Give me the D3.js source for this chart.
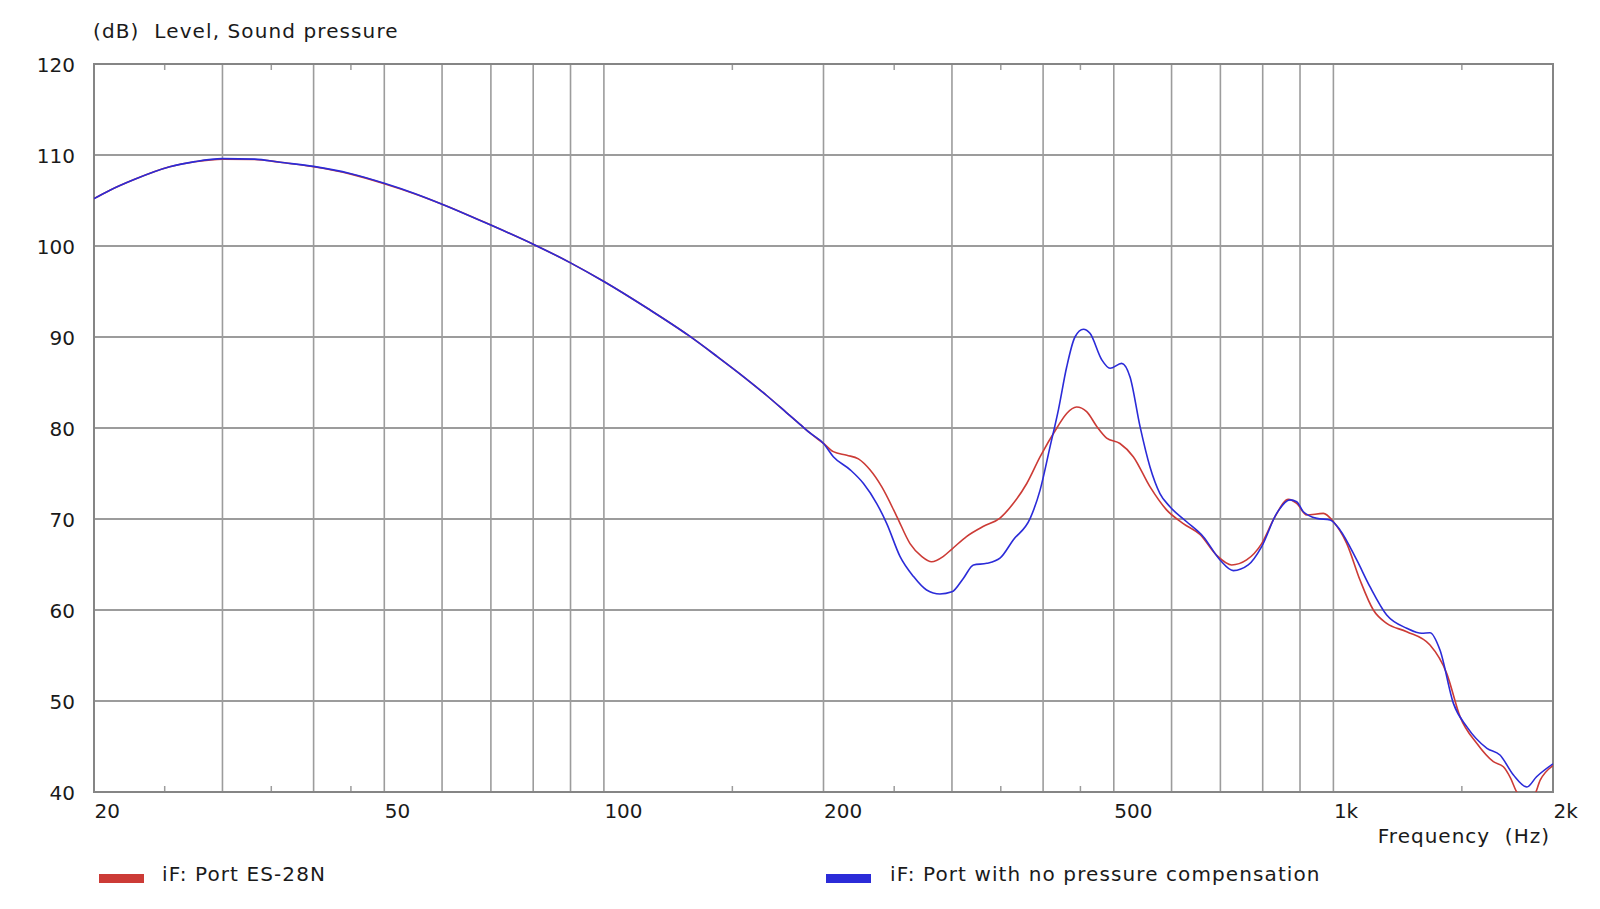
<!DOCTYPE html>
<html>
<head>
<meta charset="utf-8">
<script src="https://cdn.jsdelivr.net/npm/d3@7"></script>
<style>
  html, body { margin: 0; padding: 0; background: #ffffff; }
  svg { display: block; }
  text { font-family: "DejaVu Sans", Verdana, sans-serif; fill: #1a1a1a; }
</style>
</head>
<body>
<svg id="chart" width="1600" height="909"></svg>
<script>
// ---- data ----
const gridFreqs = [20, 30, 40, 50, 60, 70, 80, 90, 100, 200, 300, 400, 500, 600, 700, 800, 900, 1000];
const minorFreqs = [25, 35, 45, 150, 250, 350, 450, 1500];
const xLabelFreqs = [20, 50, 100, 200, 500, 1000, 2000];
const xLabelText = ["20", "50", "100", "200", "500", "1k", "2k"];
const yTicks = [40, 50, 60, 70, 80, 90, 100, 110, 120];

const seriesNames = ["iF: Port ES-28N", "iF: Port with no pressure compensation"];

const redFreq = [20, 21, 22.7, 25.4, 27.5, 30, 33.2, 36, 40, 45, 50, 55, 60, 70, 80, 90, 100, 115, 130.5, 143, 155.6, 167, 177.9, 185.7, 192, 200,
  206.3, 215.3, 223.3, 231.6, 240.3, 252, 262.8, 272.6, 281.4, 292, 300, 314.4, 331.4, 349.1, 364, 379.9, 396.3, 417.7, 430.9, 444.6, 458.9, 473.6, 488.8, 509.8, 531.7, 560.4, 590.6, 622.6, 656.3, 691.9, 725.4, 760.3, 797.4, 831.7, 867.4, 890.6, 919.1, 968.7, 1000, 1042.8, 1087.6, 1134.4, 1183.2, 1260.4, 1356.5, 1429.9, 1491.4, 1572, 1656.9, 1710, 1750, 1783.6, 1830, 1880, 1920.9, 2000];
const redLevel = [105.2, 106.1, 107.3, 108.7, 109.25, 109.55, 109.5, 109.2, 108.7, 107.9, 106.85, 105.75, 104.6, 102.3, 100.2, 98.15, 96.1, 93.1, 90.2, 87.85, 85.6, 83.6, 81.7, 80.4, 79.4, 78.3,
  77.4, 77.0, 76.6, 75.4, 73.55, 70.3, 67.3, 65.9, 65.3, 65.9, 66.7, 68.1, 69.2, 70.1, 71.7, 73.9, 76.85, 80.0, 81.6, 82.3, 81.8, 80.2, 78.9, 78.3, 76.85, 73.55, 71.0, 69.5, 68.3, 66.0, 64.95, 65.5, 67.3, 70.26, 72.16, 71.72, 70.44, 70.62, 69.7, 67.33, 63.3, 60.0, 58.53, 57.62, 56.15, 53.04, 48.28, 45.35, 43.33, 42.78, 41.5, 40.0, 39.3, 39.5, 41.3, 42.9];

const blueFreq = [20, 21, 22.7, 25.4, 27.5, 30, 33.2, 36, 40, 45, 50, 55, 60, 70, 80, 90, 100, 115, 130.5, 143, 155.6, 167, 177.9, 185.7, 192, 200,
  206.3, 217.6, 226.9, 236.6, 244.2, 254.6, 265.6, 276.9, 288.8, 300, 311.1, 321.1, 334.9, 349.1, 364, 384, 396.3, 408.9, 419.8, 430.9, 442.3, 454.2, 463.8, 481.3, 494.1, 512.6, 526.3, 543.2, 560.4, 578.4, 596.9, 629.2, 663.2, 699.2, 729.1, 764.3, 797.4, 836.1, 872, 890.6, 909.5, 949, 989.8, 1021, 1076.4, 1122.3, 1183.2, 1260.4, 1321.5, 1356.5, 1399.9, 1460.4, 1523.3, 1623.7, 1691.8, 1765.3, 1842, 1898.9, 2000];
const blueLevel = [105.2, 106.1, 107.3, 108.7, 109.27, 109.6, 109.55, 109.2, 108.75, 107.95, 106.9, 105.78, 104.6, 102.3, 100.2, 98.15, 96.1, 93.1, 90.2, 87.85, 85.6, 83.6, 81.7, 80.4, 79.4, 78.3,
  76.85, 75.4, 73.9, 71.7, 69.5, 65.9, 63.7, 62.2, 61.76, 62.0, 63.5, 64.95, 65.13, 65.7, 67.7, 70.07, 73.2, 77.95, 82.0, 86.7, 90.0, 90.85, 90.4, 87.5, 86.56, 87.1, 85.6, 80.15, 75.75, 72.8, 71.35, 69.7, 68.06, 65.5, 64.33, 64.95, 66.97, 70.62, 72.1, 71.9, 70.8, 70.07, 69.9, 68.8, 65.5, 62.56, 59.45, 58.0, 57.44, 57.5, 55.6, 49.74, 47.18, 44.8, 44.07, 41.87, 40.55, 41.68, 43.1];

// ---- layout ----
const pL = 94, pR = 1553, pT = 64, pB = 792;
const svg = d3.select("#chart");

const x = d3.scaleLog().domain([20, 2000]).range([pL, pR]);
const y = d3.scaleLinear().domain([40, 120]).range([pB, pT]);

const gridColor = "#9c9c9c";

// horizontal grid
svg.append("g").selectAll("line").data(yTicks).join("line")
  .attr("x1", pL).attr("x2", pR)
  .attr("y1", d => y(d)).attr("y2", d => y(d))
  .attr("stroke", gridColor).attr("stroke-width", 1.8);

// vertical grid
svg.append("g").selectAll("line").data(gridFreqs).join("line")
  .attr("x1", d => x(d)).attr("x2", d => x(d))
  .attr("y1", pT).attr("y2", pB)
  .attr("stroke", gridColor).attr("stroke-width", 1.6);

// minor ticks (top and bottom)
const mt = svg.append("g");
mt.selectAll("line.t").data(minorFreqs).join("line").attr("class", "t")
  .attr("x1", d => x(d)).attr("x2", d => x(d))
  .attr("y1", pT).attr("y2", pT + 6)
  .attr("stroke", gridColor).attr("stroke-width", 1.5);
mt.selectAll("line.b").data(minorFreqs).join("line").attr("class", "b")
  .attr("x1", d => x(d)).attr("x2", d => x(d))
  .attr("y1", pB - 6).attr("y2", pB)
  .attr("stroke", gridColor).attr("stroke-width", 1.5);

// frame
svg.append("rect")
  .attr("x", pL).attr("y", pT)
  .attr("width", pR - pL).attr("height", pB - pT)
  .attr("fill", "none").attr("stroke", "#858585").attr("stroke-width", 2);

// clip
svg.append("clipPath").attr("id", "plotclip")
  .append("rect").attr("x", pL).attr("y", pT)
  .attr("width", pR - pL).attr("height", pB - pT);

const line = d3.line()
  .x(d => x(d[0]))
  .y(d => y(d[1]))
  .curve(d3.curveMonotoneX);

const redData = redFreq.map((f, i) => [f, redLevel[i]]);
const blueData = blueFreq.map((f, i) => [f, blueLevel[i]]);

const colors = ["#cc3b36", "#2b2bd8"];

const plot = svg.append("g").attr("clip-path", "url(#plotclip)");
plot.append("path").datum(redData).attr("d", line)
  .attr("fill", "none").attr("stroke", colors[0]).attr("stroke-width", 1.6);
plot.append("path").datum(blueData).attr("d", line)
  .attr("fill", "none").attr("stroke", colors[1]).attr("stroke-width", 1.6);

// y axis labels
const yAxis = d3.axisLeft(y).tickValues(yTicks).tickSize(0).tickPadding(0).tickFormat(d3.format("d"));
const ya = svg.append("g").attr("transform", `translate(${pL - 19},0)`).call(yAxis);
ya.select(".domain").remove();
ya.selectAll("text").attr("font-size", 20).attr("font-family", "DejaVu Sans, Verdana, sans-serif")
  .attr("fill", "#1a1a1a").attr("dy", "0.36em");

// x axis labels
const xAxis = d3.axisBottom(x).tickValues(xLabelFreqs).tickSize(0).tickPadding(0)
  .tickFormat((d, i) => xLabelText[i]);
const xa = svg.append("g").attr("transform", `translate(0,${pB})`).call(xAxis);
xa.select(".domain").remove();
xa.selectAll("text").attr("font-size", 20).attr("font-family", "DejaVu Sans, Verdana, sans-serif")
  .attr("fill", "#1a1a1a").attr("text-anchor", "start").attr("y", 26).attr("dy", 0);

// titles
svg.append("text").attr("x", 93).attr("y", 38)
  .attr("font-size", 20).attr("letter-spacing", 1.1)
  .style("white-space", "pre")
  .text("(dB)  Level, Sound pressure");

svg.append("text").attr("x", 1550).attr("y", 843)
  .attr("font-size", 20).attr("letter-spacing", 1).attr("text-anchor", "end")
  .style("white-space", "pre")
  .text("Frequency  (Hz)");

// legend
const legendX = [99, 826];
const legendTextX = [162, 890];
const lg = svg.append("g");
seriesNames.forEach((name, i) => {
  lg.append("rect").attr("x", legendX[i]).attr("y", 874).attr("width", 45).attr("height", 9)
    .attr("fill", colors[i]);
  lg.append("text").attr("x", legendTextX[i]).attr("y", 881)
    .attr("font-size", 20).attr("letter-spacing", 1.1)
    .text(name);
});
</script>
</body>
</html>
